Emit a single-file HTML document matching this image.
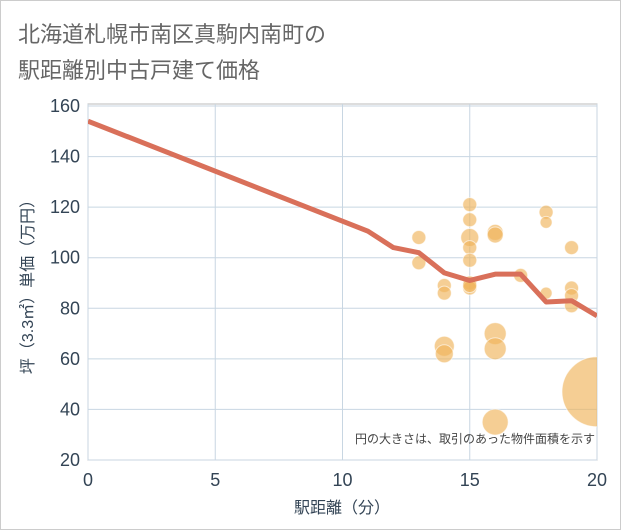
<!DOCTYPE html>
<html><head><meta charset="utf-8"><style>
body{margin:0;background:#fff;font-family:"Liberation Sans","Noto Sans CJK JP",sans-serif}
#wrap{position:relative;width:619px;height:528px;border:1px solid #ccc;background:#fff}
</style></head><body>
<div id="wrap">
<svg id="chart" width="621" height="530" style="position:absolute;left:-1px;top:-1px">
<defs><clipPath id="plotclip"><rect x="88" y="104" width="509" height="356"/></clipPath></defs>
<text x="18" y="42" font-size="22" fill="#666">北海道札幌市南区真駒内南町の</text>
<text x="18" y="78" font-size="22" fill="#666">駅距離別中古戸建て価格</text>
<g id="grid"></g><g id="pts" clip-path="url(#plotclip)"></g><g id="ln" clip-path="url(#plotclip)"></g><g id="axes"></g>
<text x="595" y="443" font-size="12" fill="#444" text-anchor="end">円の大きさは、取引のあった物件面積を示す</text>
<text x="342" y="513" font-size="16" fill="#345" text-anchor="middle">駅距離（分）</text>
<text transform="translate(33,283) rotate(-90)" font-size="16" fill="#345" text-anchor="middle">坪（3.3㎡）単価（万円）</text>
</svg></div>
<script>
const xTicks=[0,5,10,15,20];
const yTicks=[20,40,60,80,100,120,140,160];
const ptX=[13,13,14,14,14,14,15,15,15,15,15,15,15,15,16,16,16,16,16,17,18,18,18,19,19,19,19,20];
const ptY=[108,98,89,86,65,62,121,115,108,104,99,90,88,89,110,109,70,64,35,93,118,114,86,104,88,85,81,47];
const ptR=[7,7,7,7,10,9,7,7,9,7,7,7,7,7,8,8,11,11,13,7,7,6,6,7,7,7,7,35];
const lineX=[0,11,12,13,14,15,16,17,18,19,20];
const lineY=[154,110.5,104,102,94,91,93.5,93.5,82.5,83,77];
const L=88,R=597,T=106,B=460;
const sx=v=>L+(v-0)/20*(R-L), sy=v=>B-(v-20)/140*(B-T);
const NS="http://www.w3.org/2000/svg";
function mk(t,a,p){const e=document.createElementNS(NS,t);for(const k in a)e.setAttribute(k,a[k]);p.appendChild(e);return e;}
const g=document.getElementById('grid'),ax=document.getElementById('axes');
mk('rect',{x:L,y:T-2,width:R-L,height:B-T+2,fill:'none',stroke:'#bbb'},g);
xTicks.forEach(v=>{const l=mk('line',{x1:sx(v),x2:sx(v),y1:T-2,y2:B,stroke:'#c8d6e2'},g);


const t=mk('text',{x:sx(v),y:B+26,'font-size':18,fill:'#345','text-anchor':'middle'},ax);t.textContent=v;

});
yTicks.forEach(v=>{const l=mk('line',{x1:L,x2:R,y1:sy(v),y2:sy(v),stroke:'#c8d6e2'},g);


const t=mk('text',{x:L-8,y:sy(v)+6,'font-size':18,fill:'#345','text-anchor':'end'},ax);t.textContent=v;

});
const pg=document.getElementById('pts');
ptX.forEach((x,i)=>{const c=mk('circle',{cx:sx(x),cy:sy(ptY[i]),r:ptR[i],fill:'rgba(240,180,90,0.65)',stroke:'rgba(255,255,255,0.6)'},pg);

});
const p=mk('polyline',{points:lineX.map((x,i)=>sx(x)+','+sy(lineY[i])).join(' '),fill:'none',stroke:'#d9705a','stroke-width':5,'stroke-linejoin':'round'},document.getElementById('ln'));


</script>
</body></html>
